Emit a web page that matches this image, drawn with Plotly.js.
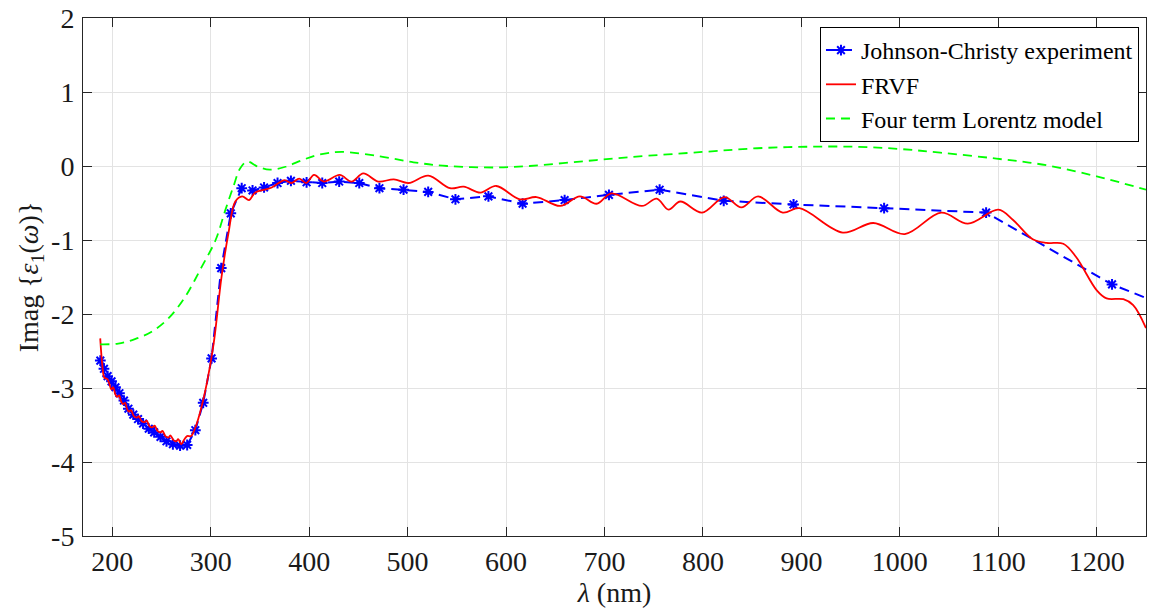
<!DOCTYPE html>
<html>
<head>
<meta charset="utf-8">
<script src="https://cdn.plot.ly/plotly-3.0.1.min.js"></script>
<style>
html,body{margin:0;padding:0;background:#fff;}
#chart{width:1152px;height:612px;}
</style>
</head>
<body>
<div id="chart"></div>
<script>
// Johnson-Christy experiment
const jcLambda = [187.9,191.6,195.3,199.3,203.3,207.3,211.9,216.4,221.4,226.2,231.3,237.1,242.6,249.0,255.1,261.6,268.9,276.1,284.4,292.4,300.9,310.7,320.4,331.5,342.5,354.2,367.9,381.5,397.4,413.3,430.5,450.9,471.4,495.9,520.9,548.6,582.1,616.8,659.5,704.5,756.0,821.1,892.0,984.0,1087.6,1215.5,1393.1];
const jcValue = [-2.63,-2.74,-2.84,-2.91,-2.99,-3.07,-3.17,-3.28,-3.36,-3.42,-3.48,-3.55,-3.60,-3.66,-3.72,-3.76,-3.78,-3.77,-3.57,-3.20,-2.60,-1.38,-0.64,-0.30,-0.33,-0.29,-0.23,-0.20,-0.22,-0.23,-0.21,-0.23,-0.30,-0.32,-0.35,-0.45,-0.41,-0.51,-0.46,-0.39,-0.32,-0.47,-0.52,-0.57,-0.63,-1.60,-2.54];

// FRVF
const frvfLambda = [187.8,190,192,195,197,199,201,203,205,207,209,211,213,215,217,219,222,225,227,230,233,235,238,241,243,246,249,251,254,257,259,262,265,267,270,273,276,280,284,289,296,303,311,318,325,332,339,345,355,362,369,375,382,390,397,405,415,431,443,455,470,486,501,521,543,557,574,590,614,631,655,675,692,707,738,753,765,777,799,822,839,856,881,898,942,973,1005,1042,1069,1100,1115,1135,1149,1166,1179,1200,1210,1227,1237,1250];
const frvfValue = [-2.33,-2.70,-2.86,-2.88,-2.94,-3.02,-2.99,-3.08,-3.12,-3.10,-3.18,-3.22,-3.20,-3.28,-3.32,-3.30,-3.38,-3.40,-3.38,-3.45,-3.46,-3.44,-3.52,-3.53,-3.51,-3.58,-3.60,-3.58,-3.65,-3.67,-3.64,-3.70,-3.72,-3.69,-3.76,-3.70,-3.65,-3.65,-3.55,-3.34,-2.94,-2.40,-1.50,-0.91,-0.48,-0.41,-0.46,-0.36,-0.32,-0.29,-0.23,-0.19,-0.23,-0.17,-0.23,-0.12,-0.21,-0.12,-0.21,-0.10,-0.21,-0.18,-0.23,-0.13,-0.30,-0.28,-0.36,-0.27,-0.45,-0.42,-0.54,-0.41,-0.51,-0.37,-0.54,-0.44,-0.59,-0.48,-0.63,-0.42,-0.56,-0.41,-0.63,-0.57,-0.90,-0.77,-0.92,-0.63,-0.78,-0.59,-0.73,-0.99,-1.04,-1.05,-1.23,-1.68,-1.79,-1.80,-1.88,-2.19];

// Four term Lorentz model
const lorLambda = [187.8,206,223,240,257,274,291,305,315,323,330,337,348,360,376,393,409,433,472,506,540,590,624,675,726,800,855,905,956,1000,1041,1098,1149,1200,1250];
const lorValue = [-2.41,-2.40,-2.34,-2.24,-2.06,-1.77,-1.36,-1.00,-0.59,-0.28,-0.03,0.06,-0.01,-0.05,-0.01,0.08,0.15,0.19,0.13,0.05,0.00,-0.02,0.00,0.06,0.12,0.19,0.24,0.26,0.26,0.23,0.18,0.10,0.01,-0.14,-0.32];

const xTicks = [200,300,400,500,600,700,800,900,1000,1100,1200];
const yTicks = [-5,-4,-3,-2,-1,0,1,2];

const FONT = 'Liberation Serif';

const traces = [
  {
    x: jcLambda, y: jcValue, type: 'scatter', mode: 'lines+markers',
    name: 'Johnson-Christy experiment',
    line: {color: '#0000ff', width: 2, dash: '10px,6px'},
    marker: {symbol: 'asterisk-open', size: 9, color: '#0000ff', line: {color: '#0000ff', width: 2}}
  },
  {
    x: frvfLambda, y: frvfValue, type: 'scatter', mode: 'lines',
    name: 'FRVF',
    line: {color: '#ff0000', width: 1.8, shape: 'spline', smoothing: 1}
  },
  {
    x: lorLambda, y: lorValue, type: 'scatter', mode: 'lines',
    name: 'Four term Lorentz model',
    line: {color: '#00ff00', width: 1.8, dash: '9px,6px', shape: 'spline', smoothing: 1}
  }
];

const layout = {
  width: 1152, height: 612,
  margin: {l: 83, r: 6, t: 18, b: 76},
  paper_bgcolor: '#ffffff', plot_bgcolor: '#ffffff',
  font: {family: FONT, size: 28, color: '#000000'},
  showlegend: true,
  legend: {
    x: 0.9934, y: 0.9826, xanchor: 'right', yanchor: 'top',
    bgcolor: '#ffffff', bordercolor: '#000000', borderwidth: 1,
    font: {family: FONT, size: 24, color: '#000000'},
    tracegroupgap: 0, itemwidth: 30
  },
  xaxis: {
    range: [170.3, 1250], tickmode: 'array', tickvals: xTicks, ticktext: xTicks.map(String),
    showgrid: true, gridcolor: '#e3e3e3', gridwidth: 1,
    zeroline: false, showline: true, linecolor: '#262626', linewidth: 1, mirror: 'ticks',
    ticks: 'inside', ticklen: 9, tickcolor: '#262626',
    tickfont: {family: FONT, size: 28, color: '#1a1a1a'},
    ticklabelstandoff: 0,
    title: {text: '<i>λ</i> (nm)', font: {family: FONT, size: 28, color: '#1a1a1a'}, standoff: 4}
  },
  yaxis: {
    range: [-5, 2], tickmode: 'array', tickvals: yTicks, ticktext: yTicks.map(String),
    showgrid: true, gridcolor: '#e3e3e3', gridwidth: 1,
    zeroline: false, showline: true, linecolor: '#262626', linewidth: 1, mirror: 'ticks',
    ticks: 'inside', ticklen: 9, tickcolor: '#262626',
    tickfont: {family: FONT, size: 28, color: '#1a1a1a'},
    ticklabelstandoff: 2,
    title: {text: 'Imag {<i>ε</i><sub>1</sub>(<i>ω</i>)}', font: {family: FONT, size: 28, color: '#1a1a1a'}, standoff: 4}
  }
};

Plotly.newPlot('chart', traces, layout, {displayModeBar: false, staticPlot: true});
</script>
</body>
</html>
